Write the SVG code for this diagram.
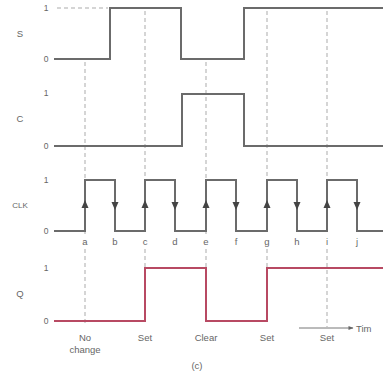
<svg xmlns="http://www.w3.org/2000/svg" width="383" height="376" viewBox="0 0 383 376">
<defs>
<style>
.t{font-family:"Liberation Sans",Arial,sans-serif;fill:#666;font-size:9.5px}
.lv{font-family:"Liberation Sans",Arial,sans-serif;fill:#666;font-size:8.5px;text-anchor:middle}
.sig{fill:none;stroke:#6b6b6b;stroke-width:2}
.q{fill:none;stroke:#b84a63;stroke-width:2}
.dash{fill:none;stroke:#ababab;stroke-width:1;stroke-dasharray:4 3}
.c{text-anchor:middle}
</style>
<marker id="ar" viewBox="0 0 10 10" refX="9" refY="5" markerWidth="6" markerHeight="5" orient="auto" markerUnits="userSpaceOnUse">
<path d="M0,1 L10,5 L0,9 z" fill="#666"/>
</marker>
</defs>
<rect width="383" height="376" fill="#fff"/>
<g id="connectors">
<path class="dash" d="M57,8 H108"/>
<path class="dash" d="M85,62 V234 M85,249 V326"/>
<path class="dash" d="M145,11 V234 M145,249 V268"/>
<path class="dash" d="M206,62 V234 M206,249 V268"/>
<path class="dash" d="M267,11 V234 M267,249 V268"/>
<path class="dash" d="M327,11 V234 M327,249 V327"/>
</g>
<g id="S">
<text class="t c" x="20" y="37">S</text>
<text class="lv" x="46" y="11">1</text>
<text class="lv" x="46" y="62">0</text>
<path class="sig" d="M54,59 H110 V8 H181 V59 H244 V8 H383"/>
</g>
<g id="C">
<text class="t c" x="20" y="122">C</text>
<text class="lv" x="46" y="96">1</text>
<text class="lv" x="46" y="149">0</text>
<path class="sig" d="M54,146 H182 V94 H244 V146 H383"/>
</g>
<g id="CLK">
<text class="t c" x="20" y="208" style="font-size:8px">CLK</text>
<text class="lv" x="46" y="183">1</text>
<text class="lv" x="46" y="234">0</text>
<path class="sig" d="M54,231 H85 V180 H115 V231 H145 V180 H175 V231 H206 V180 H236 V231 H267 V180 H297 V231 H327 V180 H357 V231 H383"/>
<g fill="#444">
<path d="M85,200 l-3.5,8 h7 z"/>
<path d="M145,200 l-3.5,8 h7 z"/>
<path d="M206,200 l-3.5,8 h7 z"/>
<path d="M267,200 l-3.5,8 h7 z"/>
<path d="M327,200 l-3.5,8 h7 z"/>
<path d="M115,210 l-3.5,-8 h7 z"/>
<path d="M175,210 l-3.5,-8 h7 z"/>
<path d="M236,210 l-3.5,-8 h7 z"/>
<path d="M297,210 l-3.5,-8 h7 z"/>
<path d="M357,210 l-3.5,-8 h7 z"/>
</g>
<g class="t c">
<text x="85" y="245">a</text>
<text x="115" y="245">b</text>
<text x="145" y="245">c</text>
<text x="175" y="245">d</text>
<text x="206" y="245">e</text>
<text x="236" y="245">f</text>
<text x="267" y="245">g</text>
<text x="297" y="245">h</text>
<text x="327" y="245">i</text>
<text x="357" y="245">j</text>
</g>
</g>
<g id="Q">
<text class="t c" x="20" y="297">Q</text>
<text class="lv" x="46" y="271">1</text>
<text class="lv" x="46" y="324">0</text>
<path class="q" d="M54,321 H145 V268 H206 V321 H267 V268 H383"/>
</g>
<g id="labels" class="t c">
<text x="85" y="341">No</text>
<text x="85" y="353">change</text>
<text x="145" y="341">Set</text>
<text x="206" y="341">Clear</text>
<text x="267" y="341">Set</text>
<text x="327" y="341">Set</text>
<text x="197" y="369">(c)</text>
</g>
<g id="time">
<path d="M299,328 H353" stroke="#777" stroke-width="1" marker-end="url(#ar)"/>
<text class="t" x="356" y="332">Tim</text>
</g>
</svg>
